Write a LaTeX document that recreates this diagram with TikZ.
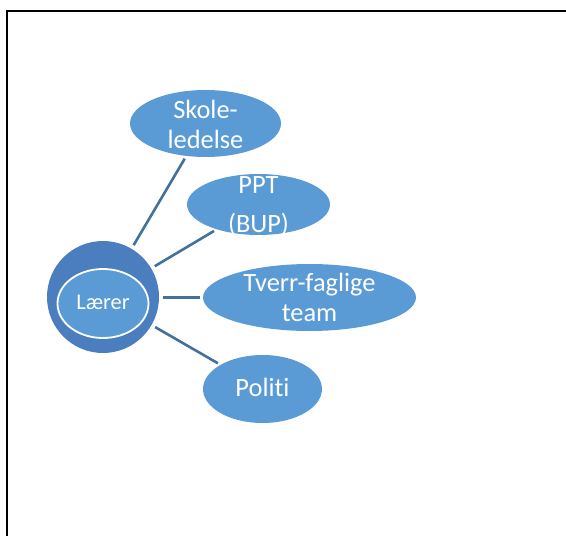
\documentclass[tikz,border=0pt]{standalone}
\usepackage{fontspec}
\setmainfont{Carlito}[Ligatures=NoCommon]
\usetikzlibrary{shapes.geometric}
\definecolor{accent}{HTML}{5B9BD5}
\definecolor{outerblue}{HTML}{4A7EBF}
\definecolor{linkblue}{HTML}{41719C}
\begin{document}
\begin{tikzpicture}[x=1bp,y=-1bp,
  blob/.style={ellipse, fill=accent, draw=none, inner sep=0pt},
  lbl/.style={text=white, align=center, inner sep=0pt, font=\fontsize{26.5}{30}\selectfont},
  link/.style={draw=linkblue, line width=2.6bp, shorten <=4bp, shorten >=3bp}]
\useasboundingbox (0,0) rectangle (566,536);
\draw[line width=2.2bp] (7,537) -- (7,11) -- (567,11);
% centre
\node[circle, fill=outerblue, minimum size=112bp, inner sep=0pt] (L) at (103,297) {};
\node[ellipse, fill=accent, draw=white, line width=1.8bp, minimum width=91bp, minimum height=69bp, inner sep=0pt] (Li) at (103,303.5) {};
\node[text=white, inner sep=0pt, font=\fontsize{22.5}{26}\selectfont] (Lt) at (103,302) {Lærer};
% satellites
\node[blob, minimum width=151bp, minimum height=67bp] (S) at (205.5,123.5) {};
\node[lbl] (St) at (205.5,124) {Skole-\\ledelse};
\node[blob, minimum width=143bp, minimum height=61bp] (P) at (258.5,204.5) {};
\node[lbl] (Pt) at (258.5,206) {PPT\\[9bp](BUP)};
\node[blob, minimum width=213bp, minimum height=67bp] (T) at (309.5,297.5) {};
\node[lbl] (Tt) at (309.5,297) {Tverr-faglige\\team};
\node[blob, minimum width=119bp, minimum height=68bp] (Po) at (262.5,389) {};
\node[lbl] (Pot) at (262.5,387) {Politi};
% connectors
\draw[link] (L) -- (S);
\draw[link] (L) -- (P);
\draw[link] (L.east |- T.west) -- (T.west);
\draw[link] (L) -- (Po);
\end{tikzpicture}
\end{document}
